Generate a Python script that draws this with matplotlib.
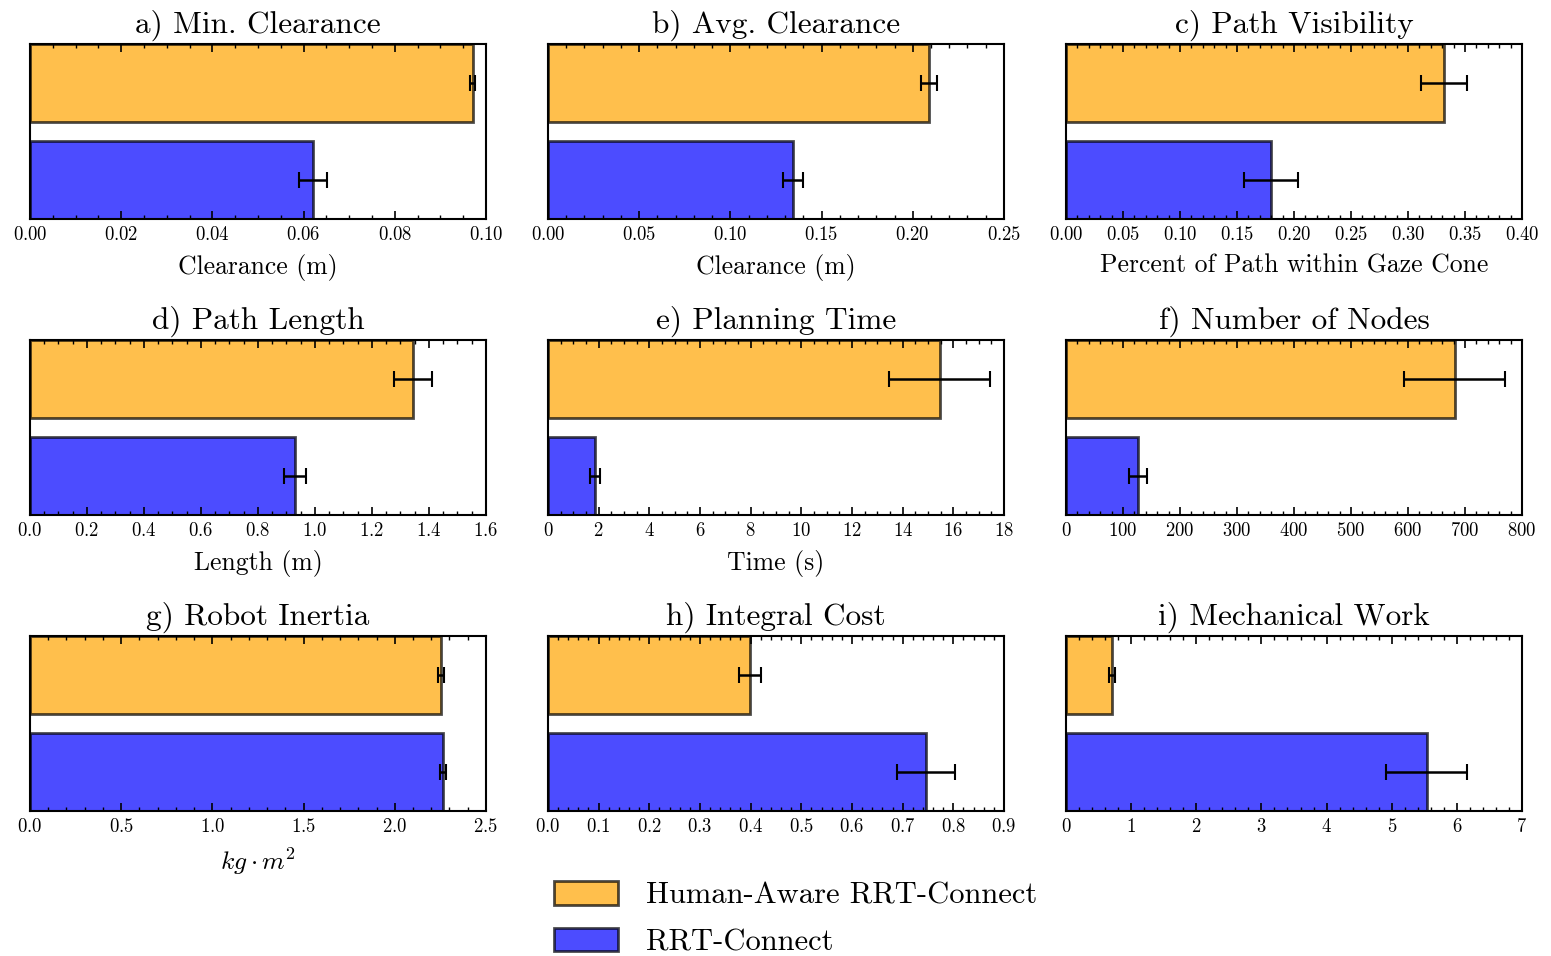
import matplotlib
matplotlib.use("Agg")
import matplotlib.pyplot as plt
from matplotlib.ticker import AutoMinorLocator, MultipleLocator
from matplotlib.patches import Patch

plt.rcParams["font.family"] = "serif"
plt.rcParams["font.serif"] = ["cmr10"]
plt.rcParams["mathtext.fontset"] = "cm"
plt.rcParams["axes.formatter.use_mathtext"] = True

methods = ["RRT-Connect", "Human-Aware RRT-Connect"]

titles = [
    "a) Min. Clearance", "b) Avg. Clearance", "c) Path Visibility",
    "d) Path Length", "e) Planning Time", "f) Number of Nodes",
    "g) Robot Inertia", "h) Integral Cost", "i) Mechanical Work",
]
xlabels = [
    "Clearance (m)", "Clearance (m)", "Percent of Path within Gaze Cone",
    "Length (m)", "Time (s)", "",
    r"$kg \cdot m^2$", "", "",
]
xlims = [0.10, 0.25, 0.40, 1.6, 18, 800, 2.5, 0.9, 7]
xsteps = [0.02, 0.05, 0.05, 0.2, 2, 100, 0.5, 0.1, 1]

# mean / std per metric: [RRT-Connect, Human-Aware RRT-Connect]
means = [
    [0.0621, 0.0971],
    [0.1343, 0.2089],
    [0.180, 0.3314],
    [0.930, 1.344],
    [1.855, 15.47],
    [126.6, 682.0],
    [2.264, 2.253],
    [0.746, 0.399],
    [5.538, 0.708],
]
stds = [
    [0.0030, 0.0005],
    [0.0055, 0.0044],
    [0.0237, 0.0202],
    [0.040, 0.068],
    [0.20, 1.99],
    [15.8, 88.8],
    [0.016, 0.016],
    [0.058, 0.0217],
    [0.623, 0.046],
]

colors = ["blue", "orange"]

fig, axes = plt.subplots(3, 3, figsize=(15.51, 9.56), dpi=100)
fig.subplots_adjust(left=0.0193, right=0.9813, top=0.954, bottom=0.1517,
                    wspace=0.136, hspace=0.691)

for i, ax in enumerate(axes.flat):
    ax.barh([0, 1], means[i], height=0.8, color=colors, alpha=0.7,
            edgecolor="black", linewidth=2)
    ax.errorbar(means[i], [0, 1], xerr=stds[i], fmt="none", ecolor="black",
                elinewidth=1.8, capsize=5.5, capthick=1.5)
    ax.set_xlim(0, xlims[i])
    ax.set_ylim(-0.4, 1.4)
    ax.set_yticks([])
    ax.xaxis.set_major_locator(MultipleLocator(xsteps[i]))
    ax.xaxis.set_minor_locator(AutoMinorLocator())
    ax.tick_params(axis="x", which="both", direction="in", top=True,
                   labelsize=13.5, pad=5)
    ax.tick_params(axis="x", which="major", length=6, width=1.2)
    ax.tick_params(axis="x", which="minor", length=3, width=1)
    for s in ax.spines.values():
        s.set_linewidth(1.5)
    ax.set_title(titles[i], fontsize=22.5, pad=8)
    if xlabels[i]:
        ax.set_xlabel(xlabels[i], fontsize=18.5, labelpad=7)

handles = [Patch(facecolor=colors[1], edgecolor="black", alpha=0.7, linewidth=2),
           Patch(facecolor=colors[0], edgecolor="black", alpha=0.7, linewidth=2)]
fig.legend(handles, [methods[1], methods[0]], loc="center",
           bbox_to_anchor=(0.513, 0.039), frameon=False, fontsize=22,
           handlelength=2.1, handleheight=0.8, handletextpad=0.9,
           labelspacing=0.6)

fig.savefig("out.png", dpi=100)
